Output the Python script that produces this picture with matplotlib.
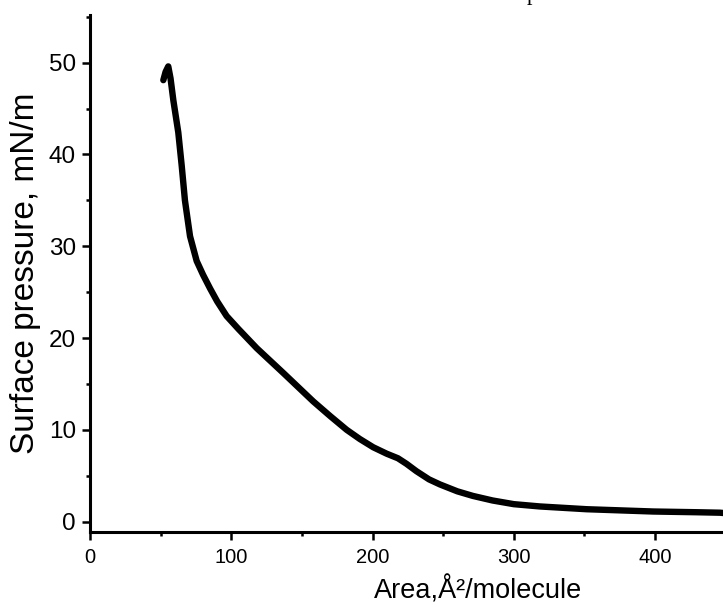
import numpy as np
import matplotlib
matplotlib.use('Agg')
import matplotlib.pyplot as plt
from matplotlib.ticker import MultipleLocator, FixedLocator

plt.rcParams['font.family'] = ['Liberation Sans', 'DejaVu Sans']

# isotherm: area (A^2/molecule) vs surface pressure (mN/m)
area = [51.9, 53.5, 55.4, 57.0, 59.0, 62.5, 64.9, 67.2, 70.8, 75.5, 80.0, 85.0,
        90.0, 96.7, 105.0, 118.0, 136.8, 158.0, 170.0, 181.7, 191.0, 200.5, 210.0,
        218.0, 224.0, 231.0, 240.0, 247.7, 260.0, 271.0, 285.0, 300.0, 318.5, 351.5,
        398.7, 430.0, 445.9, 455.0, 470.0]
pressure = [48.1, 49.0, 49.6, 48.3, 45.9, 42.4, 38.8, 35.0, 31.1, 28.4, 26.9, 25.4,
            24.0, 22.4, 21.0, 18.9, 16.2, 13.1, 11.5, 10.0, 9.0, 8.1, 7.4,
            6.9, 6.3, 5.5, 4.6, 4.05, 3.3, 2.8, 2.3, 1.9, 1.65, 1.35,
            1.1, 1.02, 0.97, 0.85, 0.8]
x_ticks = [0, 100, 200, 300, 400]

fig = plt.figure(figsize=(7.23, 6.10), dpi=100)
# axes runs past the right edge, as in the cropped original
ax = fig.add_axes([90/723, (610-531.7)/610, 777/723, (531.7-15)/610])

ax.plot(area, pressure, color='black', linewidth=4.6, solid_capstyle='round',
        solid_joinstyle='round')

ax.set_xlim(0, 550)
ax.set_ylim(-1.1, 55.2)
ax.xaxis.set_major_locator(FixedLocator(x_ticks))
ax.xaxis.set_minor_locator(MultipleLocator(50))
ax.yaxis.set_major_locator(MultipleLocator(10))
ax.yaxis.set_minor_locator(MultipleLocator(5))

for s in ['top', 'right']:
    ax.spines[s].set_visible(False)
for s in ['left', 'bottom']:
    ax.spines[s].set_linewidth(2.2)

ax.tick_params(which='major', direction='out', length=6, width=1.8)
ax.tick_params(which='minor', direction='out', length=3, width=1.8)
ax.tick_params(axis='x', labelsize=14.5, pad=6)
ax.tick_params(axis='y', labelsize=17.5, pad=4)

ax.set_xlabel('Area,\u00c5\u00b2/molecule', fontsize=19.5, labelpad=6)
ax.set_ylabel('Surface pressure, mN/m', fontsize=24, labelpad=6)

# bit of the cropped title at the top edge
fig.text(532/723, 1.0, 'p', ha='center', va='baseline', fontsize=16,
         family='Liberation Serif')

fig.savefig('out.png', dpi=100)
